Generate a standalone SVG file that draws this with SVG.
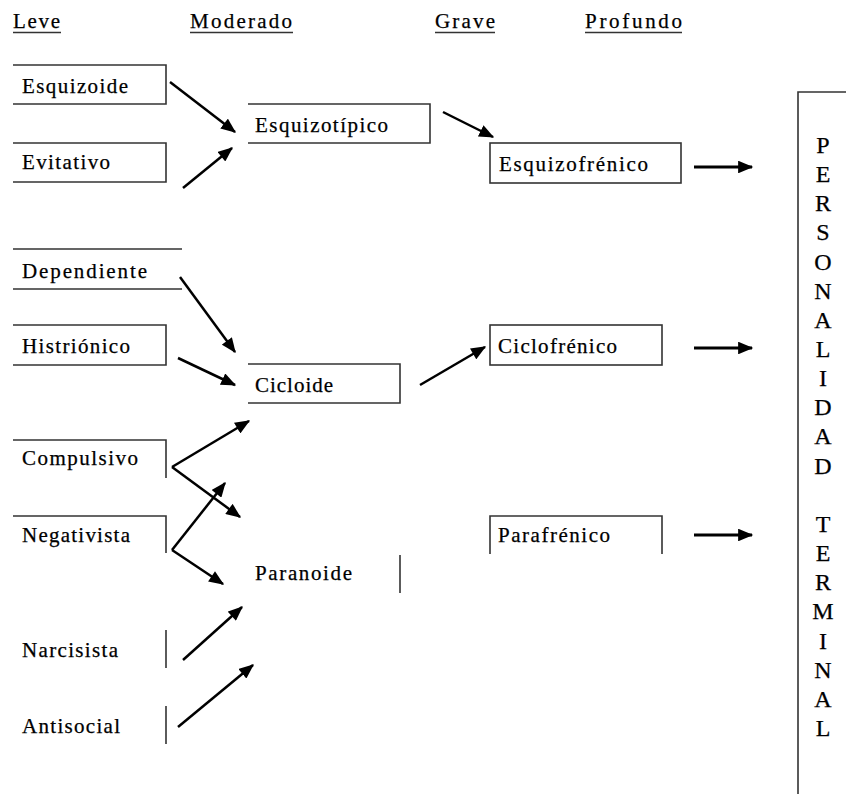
<svg xmlns="http://www.w3.org/2000/svg" width="846" height="794" viewBox="0 0 846 794">
<style>
text{font-family:"Liberation Serif","Times New Roman",serif;font-size:21px;fill:#000;stroke:#000;stroke-width:0.25}
.b{fill:none;stroke:#333;stroke-width:1.6}
.a{fill:none;stroke:#000;stroke-width:2.5;marker-end:url(#ah)}
.t{stroke-width:3}
.v{font-size:24px;text-anchor:middle}
</style>
<defs>
<marker id="ah" viewBox="0 0 12 10" refX="11" refY="5" markerWidth="6.2" markerHeight="5" markerUnits="strokeWidth" orient="auto">
<path d="M0,0 L12,5 L0,10 z" fill="#000"/>
</marker>
<marker id="ah2" viewBox="0 0 12 10" refX="11" refY="5" markerWidth="5.2" markerHeight="4.2" markerUnits="strokeWidth" orient="auto">
<path d="M0,0 L12,5 L0,10 z" fill="#000"/>
</marker>
</defs>
<rect width="846" height="794" fill="#fff"/>
<g id="headers">
<text x="13" y="28" textLength="47">Leve</text>
<line x1="13" y1="32.5" x2="61" y2="32.5" class="b" stroke-width="1"/>
<text x="190" y="28" textLength="102">Moderado</text>
<line x1="190" y1="32.5" x2="293" y2="32.5" class="b" stroke-width="1"/>
<text x="435" y="28" textLength="60">Grave</text>
<line x1="435" y1="32.5" x2="495" y2="32.5" class="b" stroke-width="1"/>
<text x="585" y="28" textLength="97">Profundo</text>
<line x1="585" y1="32.5" x2="682" y2="32.5" class="b" stroke-width="1"/>
</g>
<g id="esquizoide"><path class="b" d="M13,65 H166 V104 H13"/><text x="22" y="93" textLength="106">Esquizoide</text></g>
<g id="evitativo"><path class="b" d="M13,143 H166 V182 H13"/><text x="22" y="169" textLength="88">Evitativo</text></g>
<g id="esquizotipico"><path class="b" d="M248,104 H430 V143 H248"/><text x="255" y="132" textLength="133">Esquizotípico</text></g>
<g id="esquizofrenico"><rect class="b" x="490" y="143" width="191" height="40"/><text x="499" y="171" textLength="149">Esquizofrénico</text></g>
<g id="dependiente"><path class="b" d="M13,249 H182 M13,289 H182"/><text x="22" y="278" textLength="125">Dependiente</text></g>
<g id="histrionico"><path class="b" d="M13,325 H166 V365 H13"/><text x="22" y="353" textLength="108">Histriónico</text></g>
<g id="cicloide"><path class="b" d="M248,364 H400 V403 H248"/><text x="255" y="392" textLength="78">Cicloide</text></g>
<g id="ciclofrenico"><rect class="b" x="490" y="325" width="172" height="40"/><text x="498" y="353" textLength="119">Ciclofrénico</text></g>
<g id="compulsivo"><path class="b" d="M13,440 H166 V478"/><text x="22" y="465" textLength="116">Compulsivo</text></g>
<g id="negativista"><path class="b" d="M13,516 H166 V553"/><text x="22" y="542" textLength="108">Negativista</text></g>
<g id="paranoide"><path class="b" d="M400,555 V593"/><text x="255" y="580" textLength="97">Paranoide</text></g>
<g id="parafrenico"><path class="b" d="M490,554 V516 H662 V554"/><text x="498" y="542" textLength="112">Parafrénico</text></g>
<g id="narcisista"><path class="b" d="M166,630 V668"/><text x="22" y="657" textLength="96">Narcisista</text></g>
<g id="antisocial"><path class="b" d="M166,706 V744"/><text x="22" y="733" textLength="98">Antisocial</text></g>
<g id="personalidad-terminal">
<path class="b" d="M846,92 H798 V794"/>
<text class="v" x="823" y="153">P</text>
<text class="v" x="823" y="182">E</text>
<text class="v" x="823" y="211">R</text>
<text class="v" x="823" y="240">S</text>
<text class="v" x="823" y="270">O</text>
<text class="v" x="823" y="299">N</text>
<text class="v" x="823" y="328">A</text>
<text class="v" x="823" y="357">L</text>
<text class="v" x="823" y="386">I</text>
<text class="v" x="823" y="415">D</text>
<text class="v" x="823" y="444">A</text>
<text class="v" x="823" y="474">D</text>
<text class="v" x="823" y="532">T</text>
<text class="v" x="823" y="561">E</text>
<text class="v" x="823" y="590">R</text>
<text class="v" x="823" y="619">M</text>
<text class="v" x="823" y="649">I</text>
<text class="v" x="823" y="678">N</text>
<text class="v" x="823" y="707">A</text>
<text class="v" x="823" y="736">L</text>
</g>
<g id="connectors">
<line class="a" x1="170" y1="82" x2="235" y2="132"/>
<line class="a" x1="183" y1="188" x2="232" y2="148"/>
<line class="a" x1="443" y1="112" x2="493" y2="137"/>
<line class="a t" x1="694" y1="167" x2="752" y2="167" style="marker-end:url(#ah2)"/>
<line class="a" x1="180" y1="277" x2="235" y2="352"/>
<line class="a" x1="178" y1="358" x2="235" y2="385"/>
<line class="a" x1="420" y1="385" x2="485" y2="347"/>
<line class="a t" x1="694" y1="348" x2="752" y2="348" style="marker-end:url(#ah2)"/>
<line class="a t" x1="694" y1="535" x2="752" y2="535" style="marker-end:url(#ah2)"/>
<line class="a" x1="172" y1="467" x2="249" y2="421"/>
<line class="a" x1="172" y1="467" x2="240" y2="517"/>
<line class="a" x1="172" y1="550" x2="225" y2="483"/>
<line class="a" x1="172" y1="550" x2="223" y2="584"/>
<line class="a" x1="183" y1="660" x2="242" y2="607"/>
<line class="a" x1="178" y1="727" x2="253" y2="665"/>
</g>
</svg>
